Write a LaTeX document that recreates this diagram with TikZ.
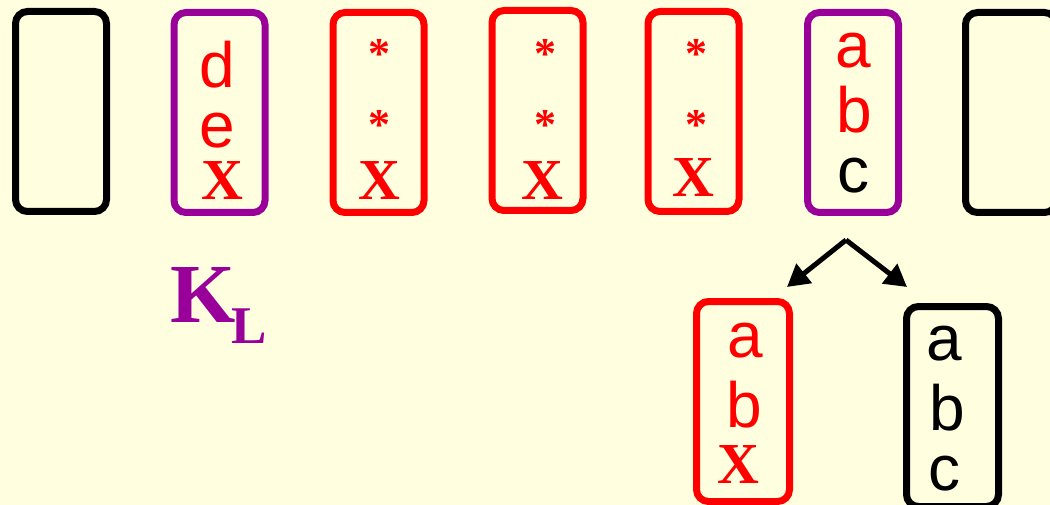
\documentclass[tikz,border=0pt]{standalone}
\usepackage{fontspec}
\setmainfont{Liberation Serif}
\newfontfamily\arial{Liberation Sans}
\usetikzlibrary{arrows.meta}
\definecolor{bg}{HTML}{FFFFE0}
\definecolor{kpurple}{HTML}{990099}
\begin{document}
\begin{tikzpicture}[x=1pt,y=-1pt,
  cell/.style={draw, line width=7pt, rounded corners=12pt, inner sep=0pt,
    minimum width=91pt, minimum height=200pt},
  sans/.style={anchor=base, inner sep=0pt, font=\arial\fontsize{64}{64}\selectfont},
  serif/.style={anchor=base, inner sep=0pt, font=\bfseries\fontsize{58}{58}\selectfont},
  star/.style={inner sep=0pt, text=red, font=\bfseries\fontsize{44}{44}\selectfont},
  link/.style={line width=5pt, -{Triangle[length=22pt,width=24pt]}}]
\fill[bg] (0,0) rectangle (1050,505);
\useasboundingbox (0,0) rectangle (1050,505);
\clip (0,0) rectangle (1050,505);

% top row of cells
\node[cell, black]         (c1) at (61,111.5) {};
\node[cell, kpurple]       (c2) at (219.5,112.5) {};
\node[cell, red]           (c3) at (378.5,112.5) {};
\node[cell, red]           (c4) at (537.5,110.5) {};
\node[cell, red]           (c5) at (693.5,111.5) {};
\node[cell, kpurple]       (c6) at (853,112.5) {};
\node[cell, black]         (c7) at (1011,112.5) {};

% contents of the cells
\node[sans, red]  (d2) at (217,88) {d};
\node[sans, red]  (e2) at (217,148) {e};
\node[serif, red] (x2) at (222,200) {X};

\node[star] (s3a) at (379,54) {*};
\node[star] (s3b) at (379,125) {*};
\node[serif, red] (x3) at (379.5,200) {X};

\node[star] (s4a) at (545,54) {*};
\node[star] (s4b) at (545,125) {*};
\node[serif, red] (x4) at (542,200) {X};

\node[star] (s5a) at (696,54) {*};
\node[star] (s5b) at (696,125) {*};
\node[serif, red] (x5) at (693,197) {X};

\node[sans, red]   (a6) at (853,68) {a};
\node[sans, red]   (b6) at (854,133) {b};
\node[sans, black] (c6t) at (853,193) {c};

% label under the purple cell
\node[anchor=base west, inner sep=0pt, text=kpurple, font=\bfseries\fontsize{84}{84}\selectfont]
  (kl) at (170,322) {K};
\node[anchor=base west, inner sep=0pt, text=kpurple, font=\bfseries\fontsize{53}{53}\selectfont]
  (kls) at (231,343) {L};

% split into two cells
\coordinate (fork) at (846,240);
\coordinate (tipl) at (787,287);
\coordinate (tipr) at (907,287);
\draw[link] (fork) -- (tipl);
\draw[link] (fork) -- (tipr);

\node[cell, red, minimum width=93pt]   (bl) at (743,401.5) {};
\node[cell, black, minimum width=92pt] (br) at (952.5,406.5) {};

\node[sans, red]  (abl) at (745,357) {a};
\node[sans, red]  (bbl) at (744,427) {b};
\node[serif, red] (xbl) at (738,483) {X};

\node[sans, black] (abr) at (944,360) {a};
\node[sans, black] (bbr) at (947,430) {b};
\node[sans, black] (cbr) at (944,490) {c};
\end{tikzpicture}
\end{document}
